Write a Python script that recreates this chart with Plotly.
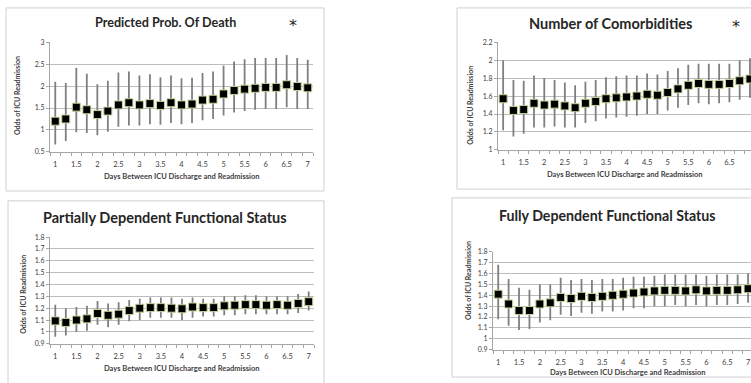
import plotly.graph_objects as go

W, H = 751, 383

days = [1, 1.25, 1.5, 1.75, 2, 2.25, 2.5, 2.75, 3, 3.25, 3.5, 3.75, 4, 4.25,
        4.5, 4.75, 5, 5.25, 5.5, 5.75, 6, 6.25, 6.5, 6.75, 7]

# Panel 1: Predicted Prob. Of Death
death_odds = [1.20, 1.25, 1.52, 1.46, 1.35, 1.43, 1.57, 1.62, 1.57, 1.60, 1.56, 1.62, 1.57,
              1.59, 1.68, 1.70, 1.82, 1.90, 1.93, 1.95, 1.97, 1.97, 2.03, 1.99, 1.96]
death_low = [0.67, 0.75, 0.95, 0.93, 0.88, 0.96, 1.07, 1.10, 1.10, 1.13, 1.12, 1.16, 1.13,
             1.16, 1.22, 1.25, 1.33, 1.40, 1.43, 1.46, 1.48, 1.48, 1.52, 1.48, 1.48]
death_high = [2.10, 2.07, 2.42, 2.28, 2.04, 2.12, 2.31, 2.33, 2.24, 2.27, 2.20, 2.24, 2.18,
              2.19, 2.30, 2.33, 2.47, 2.56, 2.61, 2.64, 2.64, 2.64, 2.71, 2.64, 2.60]

# Panel 2: Number of Comorbidities
comorb_odds = [1.57, 1.44, 1.45, 1.52, 1.50, 1.51, 1.49, 1.47, 1.52, 1.54, 1.57, 1.58, 1.59,
               1.60, 1.62, 1.61, 1.64, 1.68, 1.72, 1.74, 1.73, 1.73, 1.74, 1.77, 1.79]
comorb_low = [1.22, 1.15, 1.18, 1.25, 1.25, 1.26, 1.25, 1.25, 1.30, 1.32, 1.35, 1.36, 1.37,
              1.38, 1.40, 1.40, 1.44, 1.47, 1.50, 1.52, 1.51, 1.52, 1.53, 1.56, 1.58]
comorb_high = [2.00, 1.78, 1.77, 1.83, 1.80, 1.78, 1.75, 1.72, 1.76, 1.78, 1.81, 1.82, 1.83,
               1.83, 1.85, 1.84, 1.88, 1.91, 1.95, 1.96, 1.96, 1.96, 1.96, 2.00, 2.02]

# Panel 3: Partially Dependent Functional Status
partial_odds = [1.093, 1.08, 1.10, 1.11, 1.155, 1.14, 1.15, 1.18, 1.20, 1.205, 1.205, 1.20, 1.195,
                1.21, 1.205, 1.205, 1.22, 1.225, 1.23, 1.23, 1.225, 1.23, 1.225, 1.24, 1.255]
partial_low = [0.96, 0.97, 1.00, 1.01, 1.06, 1.04, 1.06, 1.09, 1.10, 1.12, 1.12, 1.12, 1.10,
               1.12, 1.13, 1.13, 1.14, 1.14, 1.15, 1.15, 1.15, 1.15, 1.15, 1.16, 1.18]
partial_high = [1.23, 1.20, 1.21, 1.22, 1.26, 1.24, 1.25, 1.27, 1.28, 1.29, 1.29, 1.29, 1.28,
                1.29, 1.28, 1.28, 1.30, 1.30, 1.31, 1.31, 1.30, 1.30, 1.30, 1.32, 1.34]

# Panel 4: Fully Dependent Functional Status
full_odds = [1.41, 1.32, 1.26, 1.26, 1.32, 1.33, 1.38, 1.37, 1.39, 1.38, 1.39, 1.40, 1.41,
             1.42, 1.43, 1.44, 1.445, 1.445, 1.44, 1.45, 1.44, 1.445, 1.445, 1.45, 1.46]
full_low = [1.18, 1.12, 1.08, 1.09, 1.15, 1.17, 1.22, 1.21, 1.24, 1.23, 1.25, 1.25, 1.26,
            1.28, 1.28, 1.30, 1.30, 1.31, 1.30, 1.31, 1.30, 1.31, 1.31, 1.32, 1.33]
full_high = [1.68, 1.55, 1.47, 1.45, 1.50, 1.50, 1.56, 1.54, 1.55, 1.54, 1.55, 1.55, 1.56,
             1.57, 1.57, 1.58, 1.59, 1.59, 1.59, 1.59, 1.58, 1.59, 1.59, 1.59, 1.60]

x_tickvals = [1, 1.5, 2, 2.5, 3, 3.5, 4, 4.5, 5, 5.5, 6, 6.5, 7]
x_ticktext = ["1", "1.5", "2", "2.5", "3", "3.5", "4", "4.5", "5", "5.5", "6", "6.5", "7"]

titles = ["Predicted Prob. Of Death", "Number of Comorbidities",
          "Partially Dependent Functional Status", "Fully Dependent Functional Status"]
y_title = "Odds of ICU Readmission"
x_title = "Days Between ICU Discharge and Readmission"

y_ticks = [
    ([0.5, 1, 1.5, 2, 2.5, 3], ["0.5", "1", "1.5", "2", "2.5", "3"]),
    ([1, 1.2, 1.4, 1.6, 1.8, 2, 2.2], ["1", "1.2", "1.4", "1.6", "1.8", "2", "2.2"]),
    ([0.9, 1, 1.1, 1.2, 1.3, 1.4, 1.5, 1.6, 1.7, 1.8],
     ["0.9", "1", "1.1", "1.2", "1.3", "1.4", "1.5", "1.6", "1.7", "1.8"]),
    ([0.9, 1, 1.1, 1.2, 1.3, 1.4, 1.5, 1.6, 1.7, 1.8],
     ["0.9", "1", "1.1", "1.2", "1.3", "1.4", "1.5", "1.6", "1.7", "1.8"]),
]

series = [(death_odds, death_low, death_high),
          (comorb_odds, comorb_low, comorb_high),
          (partial_odds, partial_low, partial_high),
          (full_odds, full_low, full_high)]


def px(x):
    return x / W


def py(y):
    return 1 - y / H


# plot-area geometry in pixels: (left, right, top, bottom), x range end
areas = [
    (50, 313, 38, 150, 7.125),
    (498, 751, 38, 148, 7.025),
    (50, 314, 237, 346, 7.125),
    (493, 751, 252, 352, 7.07),
]
boxes = [(6, 324, 3, 190), (457, 800, 3, 188), (8, 324, 200, 400), (452, 800, 197, 380)]
title_pos = [(165, 18), (610, 19), (165, 217), (607, 215)]
title_size = [12.6, 14.5, 14.5, 14.2]
ytitle_pos = [(17, 93), (470, 102), (23, 296), (468, 282)]
xtitle_pos = [(182, 175), (625, 173), (182, 371), (628, 375)]

FONT = "Lato"
fig = go.Figure()
layout = dict(width=W, height=H, margin=dict(l=0, r=0, t=0, b=0),
              paper_bgcolor="white", plot_bgcolor="white", showlegend=False,
              font=dict(family=FONT, color="#404040"))
annotations = []
shapes = []

for i, ((odds, low, high), (l, r, t, b, xend)) in enumerate(zip(series, areas)):
    n = "" if i == 0 else str(i + 1)
    fig.add_trace(go.Scatter(
        x=days, y=odds, mode="markers",
        xaxis="x" + n, yaxis="y" + n,
        marker=dict(symbol="square", size=8, color="black",
                    line=dict(color="#c4d79b", width=1)),
        error_y=dict(type="data", symmetric=False,
                     array=[h - o for h, o in zip(high, odds)],
                     arrayminus=[o - lo for o, lo in zip(odds, low)],
                     color="#7f7f7f", thickness=1.8, width=0),
        cliponaxis=True,
    ))
    tv, tt = y_ticks[i]
    layout["xaxis" + n] = dict(
        domain=[px(l), min(1.0, px(r))], anchor="y" + n,
        range=[0.875, xend], tickvals=x_tickvals, ticktext=x_ticktext,
        showgrid=False, zeroline=False, showline=True, linecolor="#a6a6a6",
        linewidth=1, ticks="outside", ticklen=5, tickcolor="rgba(0,0,0,0)",
        tickfont=dict(size=7.5, color="#404040"),
        minor=dict(tickvals=[0.875 + 0.25 * k for k in range(26)], ticks="outside",
                   ticklen=3, tickcolor="#a6a6a6", showgrid=False),
        fixedrange=True,
    )
    layout["yaxis" + n] = dict(
        domain=[py(b), py(t)], anchor="x" + n,
        range=[tv[0], tv[-1]], tickvals=tv, ticktext=tt,
        showgrid=True, gridcolor="#bdbdbd", gridwidth=1, zeroline=False,
        showline=True, linecolor="#a6a6a6", linewidth=1,
        ticks="outside", ticklen=3, tickcolor="#a6a6a6",
        tickfont=dict(size=7, color="#404040"), fixedrange=True,
    )
    bx0, bx1, by0, by1 = boxes[i]
    shapes.append(dict(type="rect", xref="paper", yref="paper",
                       x0=px(bx0), x1=px(bx1), y0=py(by1), y1=py(by0),
                       line=dict(color="#d0d0d0", width=1), layer="below"))
    tx, ty = title_pos[i]
    annotations.append(dict(text="<b>" + titles[i] + "</b>", x=px(tx), y=py(ty),
                            xref="paper", yref="paper", showarrow=False,
                            xanchor="center", yanchor="middle",
                            font=dict(size=title_size[i], color="#262626", family=FONT)))
    yx, yy = ytitle_pos[i]
    annotations.append(dict(text="<b>" + y_title + "</b>", x=px(yx), y=py(yy),
                            xref="paper", yref="paper", showarrow=False, textangle=-90,
                            xanchor="center", yanchor="middle",
                            font=dict(size=7, color="#404040", family=FONT)))
    xx, xy = xtitle_pos[i]
    annotations.append(dict(text="<b>" + x_title + "</b>", x=px(xx), y=py(xy),
                            xref="paper", yref="paper", showarrow=False,
                            xanchor="center", yanchor="middle",
                            font=dict(size=7.5, color="#404040", family=FONT)))

for (sx, sy) in [(293, 21), (736, 22)]:
    annotations.append(dict(text="*", x=px(sx), y=py(sy), xref="paper", yref="paper",
                            showarrow=False, xanchor="center", yanchor="middle",
                            font=dict(size=16, color="#262626", family="DejaVu Sans")))

layout["annotations"] = annotations
layout["shapes"] = shapes
fig.update_layout(**layout)
fig.write_html("out.html", config={"displayModeBar": False},
               post_script="document.body.style.margin='0';document.body.style.overflow='hidden';")
